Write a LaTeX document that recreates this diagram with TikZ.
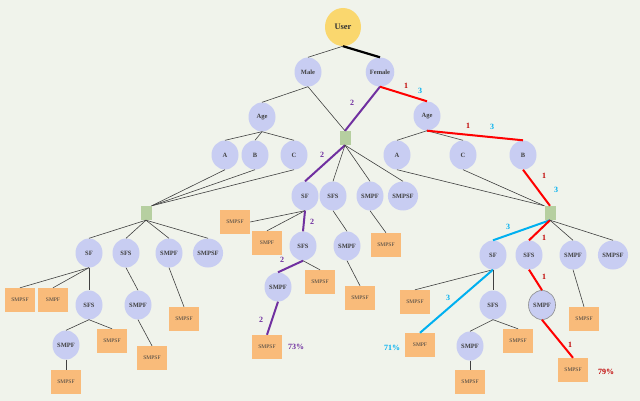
\documentclass[tikz,border=0pt]{standalone}
\usepackage{fontspec}
\setmainfont{Liberation Serif}
\usetikzlibrary{shapes.geometric}
\begin{document}
\begin{tikzpicture}[x=1pt,y=-1pt,
 cn/.style={ellipse,fill=cfill,inner sep=0pt,minimum width=27pt,minimum height=29pt,font=\fontsize{6.5}{7}\selectfont\bfseries,text=black!75},
 rn/.style={rectangle,fill=rfill,inner sep=0pt,minimum width=30pt,minimum height=24pt,font=\fontsize{5.5}{6}\selectfont,text=black!75},
 gn/.style={rectangle,fill=gfill,inner sep=0pt,minimum width=11pt,minimum height=14pt},
 ln/.style={black!75,line width=0.6pt},
 pe/.style={draw=ppl,line width=2pt},
 re/.style={draw=red,line width=2pt},
 be/.style={draw=bl,line width=2pt},
 lab/.style={font=\fontsize{8}{9}\selectfont\bfseries}]
\definecolor{cfill}{RGB}{200,205,242}
\definecolor{rfill}{RGB}{249,187,122}
\definecolor{gfill}{RGB}{182,207,160}
\definecolor{bgc}{RGB}{240,243,235}
\definecolor{ppl}{RGB}{112,48,160}
\definecolor{bl}{RGB}{0,176,240}
\definecolor{dred}{RGB}{192,0,0}
\definecolor{ufill}{RGB}{250,215,110}
\fill[bgc] (0,0) rectangle (640,401);
\useasboundingbox (0,0) rectangle (640,401);
\node[ellipse,fill=ufill,minimum width=36pt,minimum height=38pt,inner sep=0pt,font=\fontsize{8.5}{9}\selectfont\bfseries,text=black!80] (user) at (343,27) {User};
\node[cn] (male) at (308,72) {Male};
\node[cn] (female) at (380,72) {Female};
\node[cn] (ageL) at (262,117) {Age};
\node[cn] (ageR) at (427,116) {Age};
\node[cn] (LA) at (225,155) {A};
\node[cn] (LB) at (255,155) {B};
\node[cn] (LC) at (294,155) {C};
\node[cn] (RA) at (397,155) {A};
\node[cn] (RC) at (463,155) {C};
\node[cn] (RB) at (523,155) {B};
\node[gn] (gM) at (345,138) {};
\node[gn] (gL) at (146,213) {};
\node[gn] (gR) at (550,213) {};
% middle
\node[cn] (mSF) at (305,196) {SF};
\node[cn] (mSFS) at (333,196) {SFS};
\node[cn] (mSMPF) at (370,196) {SMPF};
\node[cn] (mSMPSF) at (403,196) {SMPSF};
\node[rn] (m1) at (235,222) {SMPSF};
\node[rn] (m2) at (267,243) {SMPF};
\node[cn] (m3) at (303,246) {SFS};
\node[cn] (m4) at (278,287) {SMPF};
\node[rn] (m5) at (320,282) {SMPSF};
\node[rn] (m6) at (267,347) {SMPSF};
\node[cn] (m7) at (347,246) {SMPF};
\node[rn] (m8) at (360,298) {SMPSF};
\node[rn] (m9) at (386,245) {SMPSF};
% left
\node[cn] (lSF) at (89,253) {SF};
\node[cn] (lSFS) at (126,253) {SFS};
\node[cn] (lSMPF) at (169,253) {SMPF};
\node[cn] (lSMPSF) at (208,253) {SMPSF};
\node[rn] (l1) at (20,300) {SMPSF};
\node[rn] (l2) at (53,300) {SMPF};
\node[cn] (l3) at (89,305) {SFS};
\node[cn] (l4) at (66,345) {SMPF};
\node[rn] (l5) at (112,341) {SMPSF};
\node[rn] (l6) at (66,382) {SMPSF};
\node[cn] (l7) at (138,305) {SMPF};
\node[rn] (l8) at (152,358) {SMPSF};
\node[rn] (l9) at (184,319) {SMPSF};
% right
\node[cn] (rSF) at (493,255) {SF};
\node[cn] (rSFS) at (529,255) {SFS};
\node[cn] (rSMPF) at (573,255) {SMPF};
\node[cn] (rSMPSF) at (613,255) {SMPSF};
\node[rn] (r1) at (415,302) {SMPSF};
\node[rn] (r2) at (420,345) {SMPF};
\node[cn] (r3) at (493,305) {SFS};
\node[cn] (r4) at (470,346) {SMPF};
\node[rn] (r5) at (518,341) {SMPSF};
\node[rn] (r6) at (470,382) {SMPSF};
\node[cn,draw=black!45,line width=0.6pt] (r7) at (542,305) {SMPF};
\node[rn] (r8) at (573,370) {SMPSF};
\node[rn] (r9) at (584,319) {SMPSF};
% edges
\draw[ln] (user.south) -- (male.north);
\draw[black,line width=2.2pt] (user.south) -- (female.north);
\draw[ln] (male.south) -- (ageL.north);
\draw[ln] (male.south) -- (gM.north);
\draw[pe] (female.south) -- (gM.north);
\draw[re] (female.south) -- (ageR.north);
\foreach \n in {LA,LB,LC} {\draw[ln] (ageL.south) -- (\n.north); \draw[ln] (\n.south) -- (gL.north east);}
\draw[ln] (ageR.south) -- (RA.north);
\draw[ln] (ageR.south) -- (RC.north);
\draw[re] (ageR.south) -- (RB.north);
\draw[ln] (RA.south) -- (gR.north west);
\draw[ln] (RC.south) -- (gR.north west);
\draw[re] (RB.south) -- (gR.north);
\draw[pe] (gM.south) -- (mSF.north);
\foreach \n in {mSFS,mSMPF,mSMPSF} \draw[ln] (gM.south) -- (\n.north);
\draw[ln] (mSF.south) -- (m1.east);
\draw[ln] (mSF.south) -- (m2.north);
\draw[pe] (mSF.south) -- (m3.north);
\draw[pe] (m3.south) -- (m4.north);
\draw[ln] (m3.south) -- (m5.north);
\draw[pe] (m4.south) -- (m6.north);
\draw[ln] (mSFS.south) -- (m7.north);
\draw[ln] (m7.south) -- (m8.north);
\draw[ln] (mSMPF.south) -- (m9.north);
\foreach \n in {lSF,lSFS,lSMPF,lSMPSF} \draw[ln] (gL.south) -- (\n.north);
\draw[ln] (lSF.south) -- (l1.north);
\draw[ln] (lSF.south) -- (l2.north);
\draw[ln] (lSF.south) -- (l3.north);
\draw[ln] (l3.south) -- (l4.north);
\draw[ln] (l3.south) -- (l5.north);
\draw[ln] (l4.south) -- (l6.north);
\draw[ln] (lSFS.south) -- (l7.north);
\draw[ln] (l7.south) -- (l8.north);
\draw[ln] (lSMPF.south) -- (l9.north);
\draw[be] (gR.south) -- (rSF.north);
\draw[re] (gR.south) -- (rSFS.north);
\draw[ln] (gR.south) -- (rSMPF.north);
\draw[ln] (gR.south) -- (rSMPSF.north);
\draw[ln] (rSF.south) -- (r1.north);
\draw[be] (rSF.south) -- (r2.north);
\draw[ln] (rSF.south) -- (r3.north);
\draw[ln] (r3.south) -- (r4.north);
\draw[ln] (r3.south) -- (r5.north);
\draw[ln] (r4.south) -- (r6.north);
\draw[re] (rSFS.south) -- (r7.north);
\draw[re] (r7.south) -- (r8.north);
\draw[ln] (rSMPF.south) -- (r9.north);
% labels
\node[lab,text=ppl] (p1) at (352,103) {2};
\node[lab,text=dred] (a1) at (406,86) {1};
\node[lab,text=bl] (a2) at (420,91) {3};
\node[lab,text=dred] (a3) at (468,126) {1};
\node[lab,text=bl] (a4) at (492,127) {3};
\node[lab,text=dred] (a5) at (544,176) {1};
\node[lab,text=bl] (a6) at (556,190) {3};
\node[lab,text=ppl] (p2) at (322,155) {2};
\node[lab,text=ppl] (p3) at (312,222) {2};
\node[lab,text=ppl] (p4) at (282,260) {2};
\node[lab,text=ppl] (p5) at (261,320) {2};
\node[lab,text=ppl] (pp) at (296,347) {73\%};
\node[lab,text=bl] (b1) at (508,227) {3};
\node[lab,text=dred] (c1) at (544,238) {1};
\node[lab,text=dred] (c2) at (544,277) {1};
\node[lab,text=dred] (c3) at (570,345) {1};
\node[lab,text=bl] (b2) at (448,298) {3};
\node[lab,text=bl] (bp) at (392,348) {71\%};
\node[lab,text=dred] (cp) at (606,372) {79\%};
\end{tikzpicture}
\end{document}
